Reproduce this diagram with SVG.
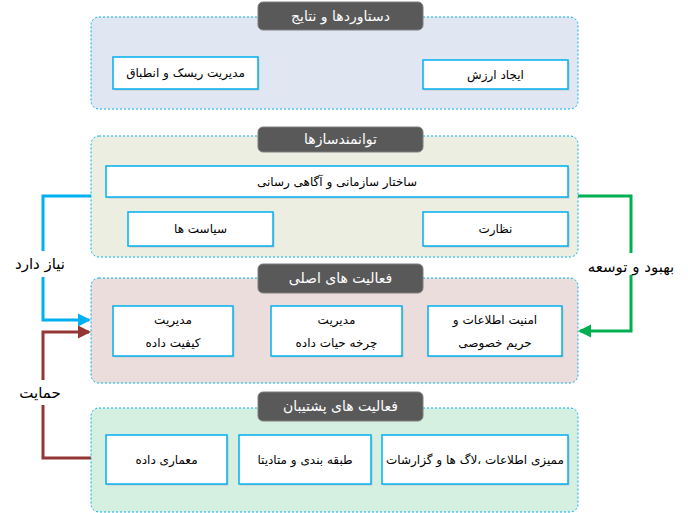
<svg xmlns="http://www.w3.org/2000/svg" width="688" height="513" viewBox="0 0 688 513">
<style>
.cont{stroke:#00B0F0;stroke-width:1;stroke-dasharray:2,2}
.c1{fill:#E1E7F2}.c2{fill:#EBEEE0}.c3{fill:#EADDDB}.c4{fill:#D5F0E0}
.ttl{fill:#595959;stroke:#7f7f7f;stroke-width:1}
.tt{font-family:"DejaVu Sans",sans-serif;font-size:14px;fill:#ffffff;text-anchor:middle;direction:rtl}
.nd{fill:#ffffff;stroke:#00B0F0;stroke-width:1.5}
.sh{fill:#c8c8c8}
.nt{font-family:"DejaVu Sans",sans-serif;font-size:12px;fill:#000;text-anchor:middle;direction:rtl}
.lb{font-family:"DejaVu Sans",sans-serif;font-size:15px;fill:#000;text-anchor:middle;direction:rtl}
.cn{fill:none;stroke-width:3}
</style>
<defs>
<marker id="ab" markerWidth="4.5" markerHeight="4.5" refX="3.8" refY="2.25" orient="auto" markerUnits="strokeWidth"><path d="M0,0 L4.5,2.25 L0,4.5 z" fill="#00B0F0"/></marker>
<marker id="ar" markerWidth="4.5" markerHeight="4.5" refX="3.8" refY="2.25" orient="auto" markerUnits="strokeWidth"><path d="M0,0 L4.5,2.25 L0,4.5 z" fill="#943634"/></marker>
<marker id="ag" markerWidth="4.5" markerHeight="4.5" refX="3.8" refY="2.25" orient="auto" markerUnits="strokeWidth"><path d="M0,0 L4.5,2.25 L0,4.5 z" fill="#00B050"/></marker>
</defs>

<g id="connectors">
<polyline class="cn" stroke="#00B0F0" points="91,196 43,196 43,251"/>
<polyline class="cn" stroke="#00B0F0" points="43,277 43,320 89,320" marker-end="url(#ab)"/>
<polyline class="cn" stroke="#943634" points="91,458 43,458 43,405"/>
<polyline class="cn" stroke="#943634" points="43,380 43,332 89,332" marker-end="url(#ar)"/>
<polyline class="cn" stroke="#00B050" points="578,196 631,196 631,253"/>
<polyline class="cn" stroke="#00B050" points="631,275 631,331 580,331" marker-end="url(#ag)"/>
<text class="lb" x="40" y="269">نیاز دارد</text>
<text class="lb" x="40" y="398">حمایت</text>
<text class="lb" x="631" y="272">بهبود و توسعه</text>
</g>

<g id="section-outcomes">
<rect class="cont c1" x="91" y="17" width="487" height="92" rx="8"/>
<rect class="ttl" x="258" y="2" width="165" height="28" rx="5"/>
<text class="tt" x="340.5" y="21">دستاوردها و نتایج</text>
</g>
<g id="node-risk">
<rect class="sh" x="114.5" y="58.5" width="145" height="32"/>
<rect class="nd" x="113" y="57" width="145" height="32"/>
<text class="nt" x="185.5" y="77">مدیریت ریسک و انطباق</text>
</g>
<g id="node-value">
<rect class="sh" x="424.5" y="61.5" width="145" height="29"/>
<rect class="nd" x="423" y="60" width="145" height="29"/>
<text class="nt" x="495.5" y="79">ایجاد ارزش</text>
</g>

<g id="section-enablers">
<rect class="cont c2" x="91" y="136" width="487" height="121" rx="8"/>
<rect class="ttl" x="258" y="127" width="165" height="25" rx="5"/>
<text class="tt" x="340.5" y="144">توانمندسازها</text>
</g>
<g id="node-structure">
<rect class="sh" x="107.5" y="167.5" width="462" height="31"/>
<rect class="nd" x="106" y="166" width="462" height="31"/>
<text class="nt" x="337" y="186">ساختار سازمانی و آگاهی رسانی</text>
</g>
<g id="node-policies">
<rect class="sh" x="129.5" y="213.5" width="145" height="34"/>
<rect class="nd" x="128" y="212" width="145" height="34"/>
<text class="nt" x="200.5" y="233">سیاست ها</text>
</g>
<g id="node-oversight">
<rect class="sh" x="424.5" y="213.5" width="145" height="34"/>
<rect class="nd" x="423" y="212" width="145" height="34"/>
<text class="nt" x="495.5" y="233">نظارت</text>
</g>

<g id="section-core">
<rect class="cont c3" x="91" y="278" width="487" height="105" rx="8"/>
<rect class="ttl" x="258" y="264" width="165" height="29" rx="5"/>
<text class="tt" x="340.5" y="283">فعالیت های اصلی</text>
</g>
<g id="node-quality">
<rect class="sh" x="114.5" y="307.5" width="120" height="50"/>
<rect class="nd" x="113" y="306" width="120" height="50"/>
<text class="nt" x="173" y="324">مدیریت</text>
<text class="nt" x="173" y="347">کیفیت داده</text>
</g>
<g id="node-lifecycle">
<rect class="sh" x="272.5" y="307.5" width="131" height="50"/>
<rect class="nd" x="271" y="306" width="131" height="50"/>
<text class="nt" x="336.5" y="324">مدیریت</text>
<text class="nt" x="336.5" y="347">چرخه حیات داده</text>
</g>
<g id="node-security">
<rect class="sh" x="429.5" y="307.5" width="134" height="50"/>
<rect class="nd" x="428" y="306" width="134" height="50"/>
<text class="nt" x="495" y="324">امنیت اطلاعات و</text>
<text class="nt" x="495" y="347">حریم خصوصی</text>
</g>

<g id="section-support">
<rect class="cont c4" x="91" y="408" width="487" height="104" rx="8"/>
<rect class="ttl" x="258" y="392" width="165" height="29" rx="5"/>
<text class="tt" x="340.5" y="411">فعالیت های پشتیبان</text>
</g>
<g id="node-architecture">
<rect class="sh" x="107.5" y="436.5" width="121" height="49"/>
<rect class="nd" x="106" y="435" width="121" height="49"/>
<text class="nt" x="166.5" y="464">معماری داده</text>
</g>
<g id="node-metadata">
<rect class="sh" x="240.5" y="436.5" width="132" height="49"/>
<rect class="nd" x="239" y="435" width="132" height="49"/>
<text class="nt" x="305" y="464">طبقه بندی و متادیتا</text>
</g>
<g id="node-audit">
<rect class="sh" x="383.5" y="436.5" width="186" height="49"/>
<rect class="nd" x="382" y="435" width="186" height="49"/>
<text class="nt" x="475" y="464">ممیزی اطلاعات ،لاگ ها و گزارشات</text>
</g>
</svg>
